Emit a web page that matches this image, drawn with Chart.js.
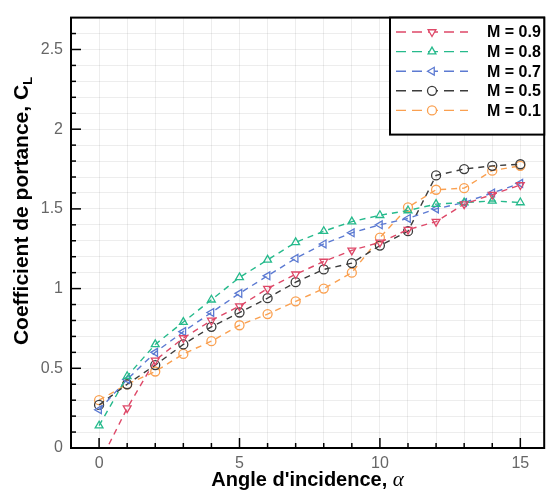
<!DOCTYPE html>
<html>
<head>
<meta charset="utf-8">
<script src="https://cdn.jsdelivr.net/npm/chart.js@4.4.0/dist/chart.umd.min.js"></script>
<style>
  html, body { margin: 0; padding: 0; background: #fff; }
</style>
</head>
<body>
<canvas id="clChart" width="550" height="495"></canvas>
<script>
// angle of attack (deg)
const alpha = [0, 1, 2, 3, 4, 5, 6, 7, 8, 9, 10, 11, 12, 13, 14, 15];

// lift coefficient per Mach number
const clM09 = [-0.10, 0.25, 0.55, 0.69, 0.80, 0.89, 1.00, 1.09, 1.17, 1.24, 1.29, 1.37, 1.42, 1.53, 1.59, 1.65];
const clM08 = [0.14, 0.45, 0.65, 0.79, 0.93, 1.07, 1.18, 1.29, 1.36, 1.42, 1.46, 1.49, 1.53, 1.54, 1.55, 1.54];
const clM07 = [0.24, 0.43, 0.60, 0.73, 0.85, 0.97, 1.08, 1.19, 1.28, 1.35, 1.40, 1.44, 1.50, 1.54, 1.60, 1.66];
const clM05 = [0.27, 0.40, 0.52, 0.65, 0.76, 0.85, 0.94, 1.04, 1.12, 1.16, 1.27, 1.36, 1.71, 1.75, 1.77, 1.78];
const clM01 = [0.30, 0.40, 0.48, 0.59, 0.67, 0.77, 0.84, 0.92, 1.00, 1.10, 1.32, 1.51, 1.62, 1.63, 1.74, 1.77];

const machLabels = ['M = 0.9', 'M = 0.8', 'M = 0.7', 'M = 0.5', 'M = 0.1'];
const machColors = ['rgb(222, 72, 104)', 'rgb(38, 186, 140)', 'rgb(92, 122, 210)', 'rgb(60, 60, 60)', 'rgb(250, 160, 80)'];
const machMarkers = ['triangle', 'triangle', 'triangle', 'circle', 'circle'];
const machRotation = [180, 0, 270, 0, 0];
const machValues = [clM09, clM08, clM07, clM05, clM01];

const xTickLabels = [0, 5, 10, 15];
const yTickLabels = [0, 0.5, 1, 1.5, 2, 2.5];

const FONT = "'Liberation Sans', Arial, Helvetica, sans-serif";

const datasets = machLabels.map((lbl, i) => ({
  label: lbl,
  data: alpha.map((a, k) => ({ x: a, y: machValues[i][k] })),
  borderColor: machColors[i],
  backgroundColor: 'rgba(255,255,255,0)',
  borderWidth: 1.4,
  borderDash: [6, 5],
  pointStyle: machMarkers[i],
  rotation: machRotation[i],
  pointRadius: 4.5,
  pointBorderWidth: 1.3,
  pointBorderColor: machColors[i],
  pointBackgroundColor: 'rgba(255,255,255,0)',
  tension: 0
}));

// frame, inner ticks, axis titles and legend box
const decorPlugin = {
  id: 'decor',
  afterDraw(chart) {
    const ctx = chart.ctx;
    const a = chart.chartArea;
    const xs = chart.scales.x, ys = chart.scales.y;
    ctx.save();

    // inner ticks
    ctx.strokeStyle = '#000';
    ctx.lineWidth = 1.5;
    for (let v = 0; v <= 15; v++) {
      const px = xs.getPixelForValue(v);
      const len = v % 5 === 0 ? 10 : 5;
      ctx.beginPath(); ctx.moveTo(px, a.bottom); ctx.lineTo(px, a.bottom - len); ctx.stroke();
    }
    for (let k = 1; k <= 26; k++) {
      const py = ys.getPixelForValue(k / 10);
      const len = k % 5 === 0 ? 10 : 5;
      ctx.beginPath(); ctx.moveTo(a.left, py); ctx.lineTo(a.left + len, py); ctx.stroke();
    }

    // frame
    ctx.lineWidth = 2;
    ctx.strokeRect(a.left, a.top, a.right - a.left, a.bottom - a.top);

    // x title
    ctx.fillStyle = '#000';
    ctx.textBaseline = 'alphabetic';
    const xt = "Angle d'incidence, ";
    ctx.font = 'bold 20px ' + FONT;
    const w1 = ctx.measureText(xt).width;
    ctx.font = "italic 21px 'Liberation Serif', 'Times New Roman', serif";
    const w2 = ctx.measureText('α').width;
    let x0 = (a.left + a.right) / 2 - (w1 + w2) / 2;
    ctx.font = 'bold 20px ' + FONT;
    ctx.textAlign = 'left';
    ctx.fillText(xt, x0, 486);
    ctx.font = "italic 21px 'Liberation Serif', 'Times New Roman', serif";
    ctx.fillText('α', x0 + w1, 486);

    // y title
    const yt = 'Coefficient de portance, C';
    ctx.font = 'bold 21px ' + FONT;
    const wy = ctx.measureText(yt).width;
    ctx.font = 'bold 13px ' + FONT;
    const ws = ctx.measureText('L').width;
    ctx.translate(28, 211);
    ctx.rotate(-Math.PI / 2);
    const y0 = -(wy + ws) / 2;
    ctx.font = 'bold 21px ' + FONT;
    ctx.fillText(yt, y0, 0);
    ctx.font = 'bold 13px ' + FONT;
    ctx.fillText('L', y0 + wy, 4);
    ctx.setTransform(1, 0, 0, 1, 0, 0);

    // legend box
    const bx = 390, by = a.top, bw = a.right - 390, bh = 117;
    ctx.fillStyle = '#fff';
    ctx.fillRect(bx, by, bw, bh);
    ctx.strokeStyle = '#000';
    ctx.lineWidth = 2;
    ctx.strokeRect(bx, by, bw, bh);
    machLabels.forEach((lbl, i) => {
      const ry = 32 + i * 19.6;
      ctx.strokeStyle = machColors[i];
      ctx.lineWidth = 1.4;
      ctx.setLineDash([10, 6]);
      ctx.beginPath(); ctx.moveTo(396, ry); ctx.lineTo(468, ry); ctx.stroke();
      ctx.setLineDash([]);
      ctx.fillStyle = '#fff';
      ctx.lineWidth = 1.3;
      Chart.helpers.drawPoint(ctx, {
        pointStyle: machMarkers[i], rotation: machRotation[i], radius: 4.5, borderWidth: 1.3
      }, 432, ry);
      ctx.fillStyle = '#000';
      ctx.font = 'bold 16px ' + FONT;
      ctx.textBaseline = 'middle';
      ctx.textAlign = 'left';
      ctx.fillText(lbl, 487, ry + 1);
    });
    ctx.restore();
  }
};

new Chart(document.getElementById('clChart'), {
  type: 'line',
  data: { datasets: datasets },
  options: {
    responsive: false,
    animation: false,
    layout: { padding: { top: 10, right: 2, left: 0, bottom: 0 } },
    plugins: { legend: { display: false }, tooltip: { enabled: false } },
    scales: {
      x: {
        type: 'linear',
        min: -1,
        max: 15.85,
        afterFit: s => { s.height = 47; },
        border: { display: false },
        grid: { color: 'rgba(0,0,0,0.07)', drawTicks: false },
        ticks: {
          stepSize: 1,
          includeBounds: false,
          autoSkip: false,
          maxRotation: 0,
          padding: 6,
          color: '#666',
          font: { size: 16, family: FONT },
          callback: v => xTickLabels.includes(v) ? String(v) : ''
        }
      },
      y: {
        min: 0,
        max: 2.7,
        afterFit: s => { s.width = 71; },
        border: { display: false },
        grid: { color: 'rgba(0,0,0,0.07)', drawTicks: false },
        ticks: {
          stepSize: 0.1,
          includeBounds: false,
          autoSkip: false,
          padding: 8,
          color: '#666',
          font: { size: 16, family: FONT },
          callback: v => {
            const r = Math.round(v * 10) / 10;
            return yTickLabels.some(t => Math.abs(t - r) < 1e-6) ? String(r) : '';
          }
        }
      }
    }
  },
  plugins: [decorPlugin]
});
</script>
</body>
</html>
